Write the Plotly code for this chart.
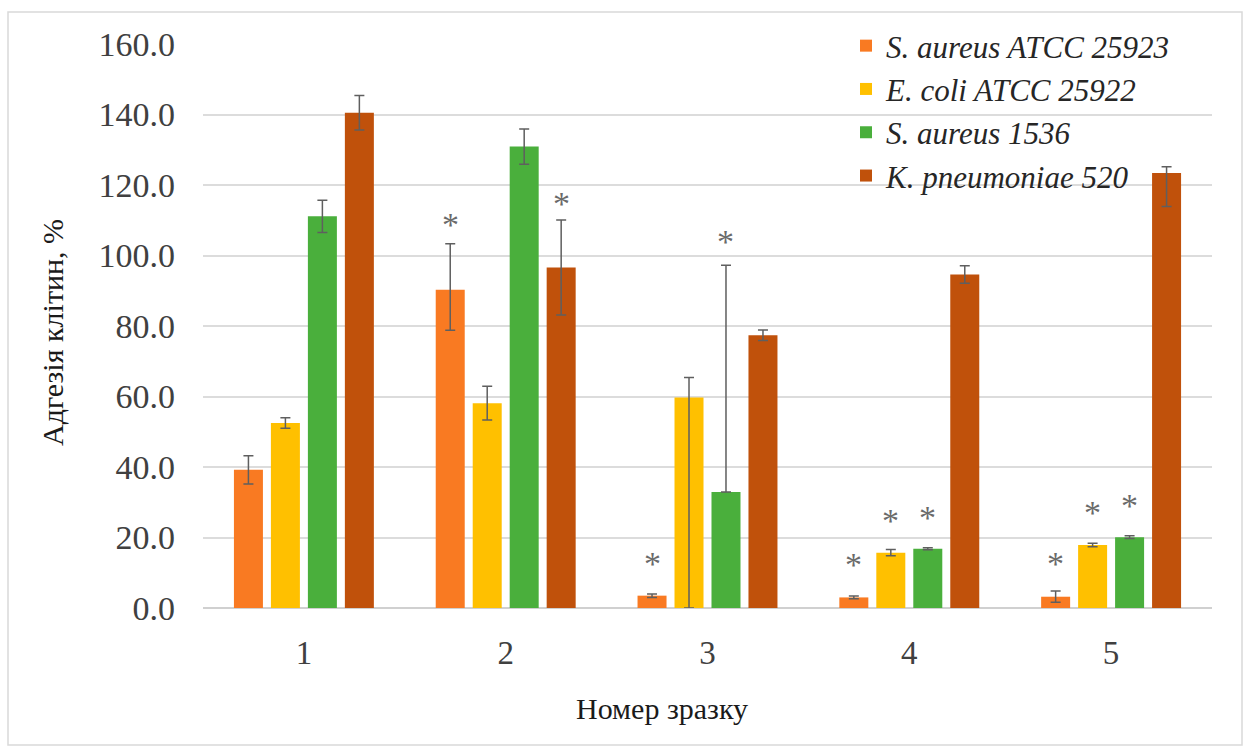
import plotly.graph_objects as go

samples = [1, 2, 3, 4, 5]
series_names = ["S. aureus ATCC 25923", "E. coli ATCC 25922", "S. aureus 1536", "K. pneumoniae 520"]
colors = ["#F97A22", "#FFC000", "#4AAF3C", "#C0510B"]

sa25923 = [39.2, 90.3, 3.5, 3.0, 3.2]
sa25923_plus = [4.0, 13.0, 0.5, 0.4, 1.6]
sa25923_minus = [4.0, 11.5, 0.5, 0.4, 1.6]
sa25923_star = [None, 110.5, 14.3, 14.0, 14.2]

ec25922 = [52.5, 58.1, 59.7, 15.7, 17.9]
ec25922_plus = [1.5, 4.8, 5.7, 0.9, 0.5]
ec25922_minus = [1.5, 4.8, 59.7, 0.9, 0.5]
ec25922_star = [None, None, None, 26.5, 28.7]

sa1536 = [111.1, 130.9, 32.9, 16.8, 20.1]
sa1536_plus = [4.6, 5.0, 64.3, 0.3, 0.4]
sa1536_minus = [4.6, 5.0, 0.0, 0.3, 0.4]
sa1536_star = [None, None, 105.8, 27.5, 30.8]

kp520 = [140.5, 96.6, 77.4, 94.6, 123.4]
kp520_plus = [4.9, 13.5, 1.5, 2.5, 1.8]
kp520_minus = [4.9, 13.5, 1.5, 2.5, 9.5]
kp520_star = [None, 116.4, None, None, None]

y_ticks = [0, 20, 40, 60, 80, 100, 120, 140, 160]

values = [sa25923, ec25922, sa1536, kp520]
plus = [sa25923_plus, ec25922_plus, sa1536_plus, kp520_plus]
minus = [sa25923_minus, ec25922_minus, sa1536_minus, kp520_minus]
stars = [sa25923_star, ec25922_star, sa1536_star, kp520_star]

W, H = 1245, 746
L, R, T, B = 203, 33, 44, 138
pw, ph = W - L - R, H - T - B
bargap = 0.267
bargroupgap = 0.216
nser = len(values)

serif = "Liberation Serif"
fig = go.Figure()
for i in range(nser):
    fig.add_trace(go.Bar(
        x=samples, y=values[i], name="<i>" + series_names[i] + "</i>",
        marker=dict(color=colors[i], line=dict(width=0)),
        error_y=dict(type="data", symmetric=False, array=plus[i], arrayminus=minus[i],
                     color="#5f5f5f", thickness=1.5, width=5),
    ))

annotations = []
slot = (1 - bargap) / nser
for i in range(nser):
    for xi, sy in zip(samples, stars[i]):
        if sy is None:
            continue
        annotations.append(dict(
            x=xi + (i - (nser - 1) / 2) * slot, y=sy, xref="x", yref="y",
            text="*", showarrow=False, yanchor="middle", yshift=-6,
            font=dict(family=serif, size=34, color="#6a6a6a")))

annotations.append(dict(
    text="Номер зразку", x=(662 - L) / pw, y=(H - B - 708) / ph, xref="paper", yref="paper",
    showarrow=False, xanchor="center", yanchor="middle",
    font=dict(family=serif, size=30, color="#1a1a1a")))
annotations.append(dict(
    text="Адгезія клітин, %", x=(52 - L) / pw, y=(H - B - 333) / ph, xref="paper", yref="paper",
    showarrow=False, xanchor="center", yanchor="middle", textangle=-90,
    font=dict(family=serif, size=30, color="#1a1a1a")))

shapes = [dict(type="rect", xref="paper", yref="paper",
               x0=(8 - L) / pw, x1=(1242 - L) / pw,
               y0=(H - B - 745) / ph, y1=(H - B - 12) / ph,
               line=dict(color="#d9d9d9", width=1.5), fillcolor="rgba(0,0,0,0)", layer="below")]

fig.update_layout(
    width=W, height=H,
    margin=dict(l=L, r=R, t=T, b=B, autoexpand=False),
    paper_bgcolor="white", plot_bgcolor="white",
    barmode="group", bargap=bargap, bargroupgap=bargroupgap,
    font=dict(family=serif, size=30, color="#404040"),
    showlegend=True,
    legend=dict(x=(846 - L) / pw, y=(H - B - 19) / ph, xanchor="left", yanchor="top",
                bgcolor="rgba(0,0,0,0)", borderwidth=0, tracegroupgap=0,
                font=dict(family=serif, size=31, color="#262626"),
                itemwidth=30),
    xaxis=dict(range=[0.5, 5.5], tickvals=samples, ticktext=[str(s) for s in samples],
               showgrid=False, zeroline=False, showline=False, ticks="",
               tickfont=dict(family=serif, size=33, color="#404040"),
               ticklabelstandoff=22),
    yaxis=dict(range=[0, 160], tickvals=y_ticks, ticktext=[f"{v:.1f}" for v in y_ticks],
               showgrid=True, gridcolor="#dcdcdc", gridwidth=1.5,
               zeroline=True, zerolinecolor="#d0d0d0", zerolinewidth=1.5,
               showline=False, ticks="",
               tickfont=dict(family=serif, size=34, color="#404040"),
               ticklabelstandoff=27),
    annotations=annotations, shapes=shapes,
)

fig.write_html("out.html")
